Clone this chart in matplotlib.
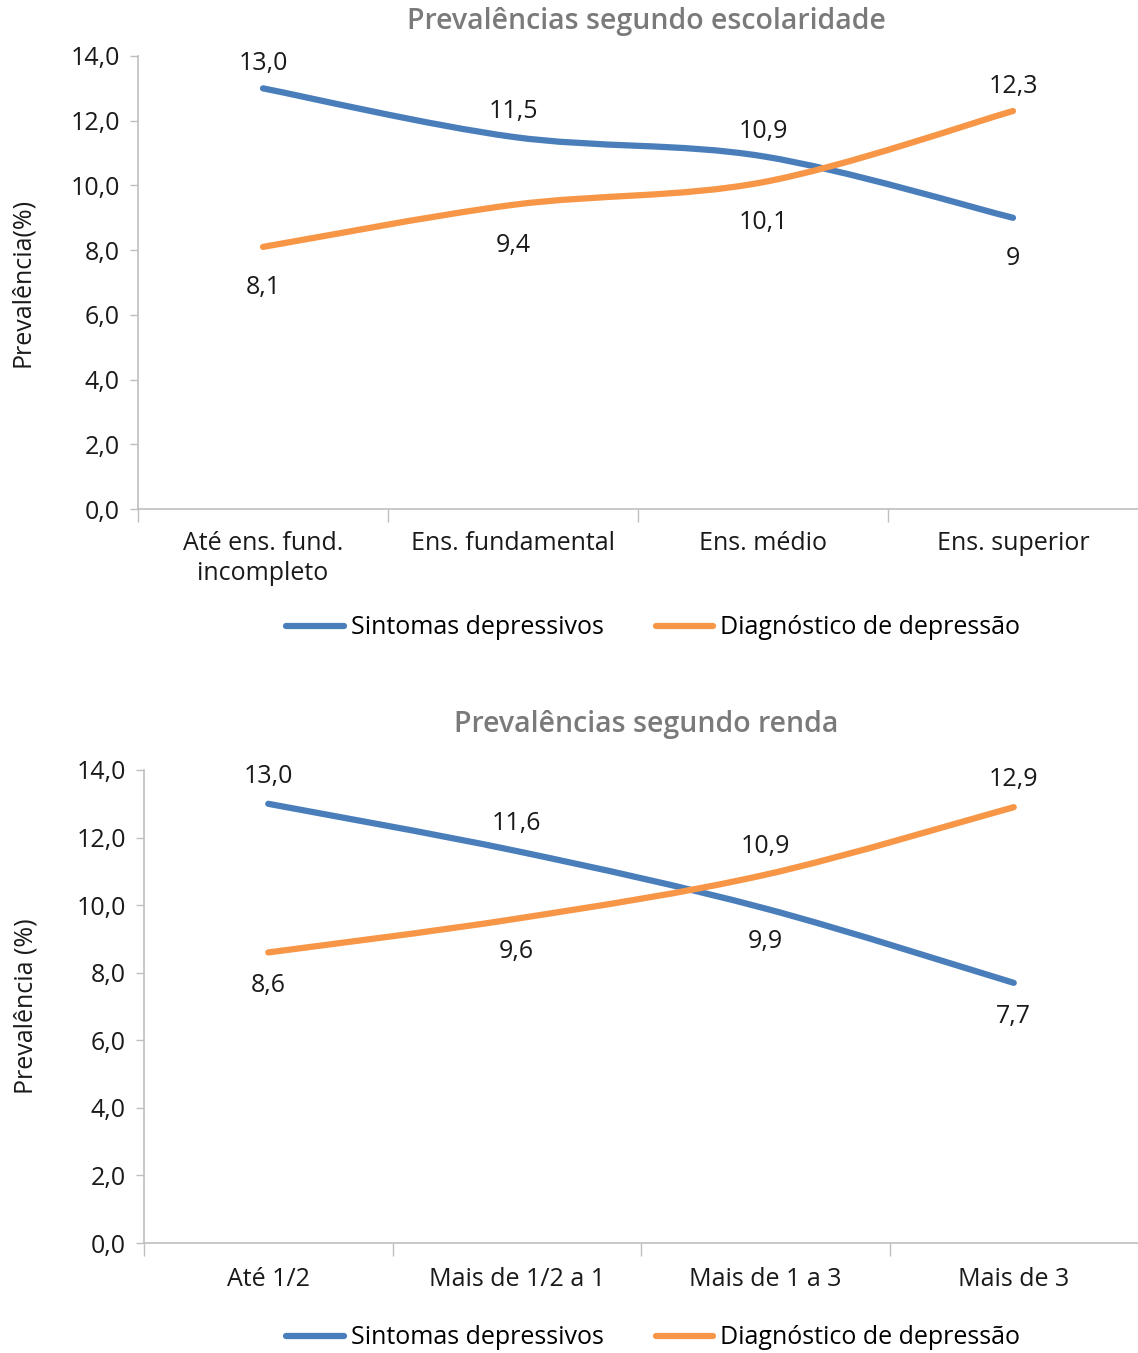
import matplotlib
matplotlib.use("Agg")
import matplotlib.pyplot as plt
from matplotlib.path import Path
from matplotlib.patches import PathPatch
from matplotlib.lines import Line2D

plt.rcParams['font.family'] = ['Open Sans', 'DejaVu Sans']

# ---- data ----
cats_escol = ["Até ens. fund.\nincompleto", "Ens. fundamental", "Ens. médio", "Ens. superior"]
sint_escol = [13.0, 11.5, 10.9, 9.0]
diag_escol = [8.1, 9.4, 10.1, 12.3]
sint_escol_lbl = ["13,0", "11,5", "10,9", "9"]
diag_escol_lbl = ["8,1", "9,4", "10,1", "12,3"]

cats_renda = ["Até 1/2", "Mais de 1/2 a 1", "Mais de 1 a 3", "Mais de 3"]
sint_renda = [13.0, 11.6, 9.9, 7.7]
diag_renda = [8.6, 9.6, 10.9, 12.9]
sint_renda_lbl = ["13,0", "11,6", "9,9", "7,7"]
diag_renda_lbl = ["8,6", "9,6", "10,9", "12,9"]

series_names = ["Sintomas depressivos", "Diagnóstico de depressão"]
yticks = [0, 2, 4, 6, 8, 10, 12, 14]
ytick_lbl = ["0,0", "2,0", "4,0", "6,0", "8,0", "10,0", "12,0", "14,0"]

BLUE = "#4A7EBB"
ORANGE = "#F79646"
GRAY = "#BFBFBF"
TITLE_C = "#7A7A7A"
TXT = "#1a1a1a"
LW = 4.5
FS = 18


def smooth_path(xs, ys):
    """Excel-style smoothed line: cubic Bezier segments through the data points."""
    n = len(xs)
    verts = [(xs[0], ys[0])]
    codes = [Path.MOVETO]
    for i in range(n - 1):
        x0, y0 = (xs[i - 1], ys[i - 1]) if i > 0 else (xs[i], ys[i])
        x1, y1 = xs[i], ys[i]
        x2, y2 = xs[i + 1], ys[i + 1]
        x3, y3 = (xs[i + 2], ys[i + 2]) if i + 2 < n else (xs[i + 1], ys[i + 1])
        c1 = (x1 + (x2 - x0) / 6.0, y1 + (y2 - y0) / 6.0)
        c2 = (x2 - (x3 - x1) / 6.0, y2 - (y3 - y1) / 6.0)
        verts += [c1, c2, (x2, y2)]
        codes += [Path.CURVE4] * 3
    return Path(verts, codes)


def draw_panel(ax, cats, s1, s2, l1, l2, title, ylabel, title_y, up_off, dn_off,
               ylab_x, xpad):
    x = list(range(len(cats)))
    for ys, col in ((s1, BLUE), (s2, ORANGE)):
        p = PathPatch(smooth_path(x, ys), facecolor="none", edgecolor=col,
                      lw=LW, capstyle="round", joinstyle="round")
        ax.add_patch(p)
    for i in x:
        for ys, other, lbls in ((s1, s2, l1), (s2, s1, l2)):
            above = ys[i] >= other[i]
            off = up_off if above else -dn_off
            ax.annotate(lbls[i], (i, ys[i]), xytext=(0, off), textcoords="offset points",
                        ha="center", va="center", fontsize=FS, color=TXT)
    ax.set_xlim(-0.5, 3.5)
    ax.set_ylim(0, 14)
    ax.set_yticks(yticks)
    ax.set_yticklabels(ytick_lbl)
    ax.set_xticks([-0.5, 0.5, 1.5, 2.5])
    ax.set_xticklabels([])
    ax.set_xticks(x, minor=True)
    ax.set_xticklabels(cats, minor=True, linespacing=1.25)
    ax.tick_params(axis="x", which="major", length=9, width=1, color=GRAY)
    ax.tick_params(axis="x", which="minor", length=0, pad=xpad, labelsize=FS,
                   labelcolor=TXT)
    ax.tick_params(axis="y", length=6, width=1, color=GRAY, pad=7, labelsize=FS,
                   labelcolor=TXT)
    for s in ("top", "right"):
        ax.spines[s].set_visible(False)
    for s in ("left", "bottom"):
        ax.spines[s].set_color(GRAY)
        ax.spines[s].set_linewidth(1.2)
    ax.set_ylabel(ylabel, fontsize=FS, color=TXT)
    ax.yaxis.set_label_coords(ylab_x, 0.5)
    fig.text(0.568, title_y, title, ha="center", va="center", fontsize=20.5,
             fontweight="semibold", color=TITLE_C)


fig = plt.figure(figsize=(11.38, 13.53), dpi=100)
ax1 = fig.add_axes([138 / 1138, 1 - 509 / 1353, 1 - 138 / 1138, (509 - 56) / 1353])
ax2 = fig.add_axes([144 / 1138, 1 - 1243 / 1353, 1 - 144 / 1138, (1243 - 770) / 1353])

draw_panel(ax1, cats_escol, sint_escol, diag_escol, sint_escol_lbl, diag_escol_lbl,
           "Prevalências segundo escolaridade", "Prevalência(%)", 1 - 22 / 1353, 18, 29,
           -0.103, 16)
draw_panel(ax2, cats_renda, sint_renda, diag_renda, sint_renda_lbl, diag_renda_lbl,
           "Prevalências segundo renda", "Prevalência (%)", 1 - 724 / 1353, 20, 24,
           -0.106, 17)

handles = [Line2D([], [], color=BLUE, lw=LW, solid_capstyle="round"),
           Line2D([], [], color=ORANGE, lw=LW, solid_capstyle="round")]
for ycen in (1 - 628 / 1353, 1 - 1338 / 1353):
    fig.legend(handles, series_names, loc="center", bbox_to_anchor=(0.574, ycen),
               ncol=2, frameon=False, fontsize=FS, handlelength=2.3,
               handletextpad=0.28, columnspacing=2.1)

fig.savefig("out.png", dpi=100)
